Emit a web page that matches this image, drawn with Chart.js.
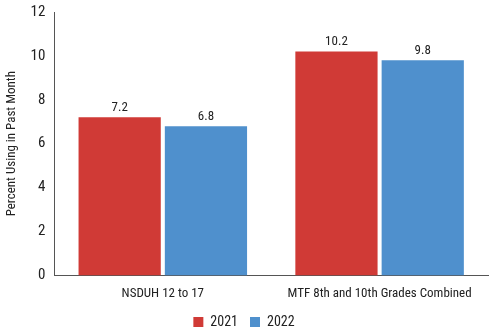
<!DOCTYPE html>
<html><head><meta charset="utf-8">
<script src="https://cdn.jsdelivr.net/npm/chart.js@4/dist/chart.umd.min.js"></script>
<style>html,body{margin:0;padding:0;background:#fff}#wrap{width:492px;height:333px}</style>
</head><body><div id="wrap"><canvas id="c" width="492" height="333"></canvas></div>
<script>
const categories = ["NSDUH 12 to 17", "MTF 8th and 10th Grades Combined"];
const seriesNames = ["2021", "2022"];
const values2021 = [7.2, 10.2];
const values2022 = [6.8, 9.8];
const yTicks = [0, 2, 4, 6, 8, 10, 12];

const FONT = '"Liberation Sans Narrow", "Roboto Condensed", "Arial Narrow", Roboto, sans-serif';
Chart.defaults.font.family = FONT;
Chart.defaults.color = '#222';

const labelPlugin = {
  id: 'vals',
  afterDatasetsDraw(chart) {
    const ctx = chart.ctx;
    ctx.save();
    ctx.font = '13px ' + FONT;
    ctx.fillStyle = '#222';
    ctx.textAlign = 'center';
    ctx.textBaseline = 'bottom';
    chart.data.datasets.forEach((ds, i) => {
      chart.getDatasetMeta(i).data.forEach((bar, j) => {
        ctx.fillText(ds.data[j].toFixed(1), bar.x, bar.y - 3);
      });
    });
    ctx.restore();
  }
};

new Chart(document.getElementById('c'), {
  type: 'bar',
  data: {
    labels: categories,
    datasets: [
      {label: seriesNames[0], data: values2021, backgroundColor: '#d03a36', categoryPercentage: 0.796, barPercentage: 0.953},
      {label: seriesNames[1], data: values2022, backgroundColor: '#4f90cd', categoryPercentage: 0.796, barPercentage: 0.953}
    ]
  },
  options: {
    responsive: false,
    animation: false,
    layout: {padding: {top: 0, right: 4, left: 0, bottom: -6}},
    plugins: {
      legend: {
        position: 'bottom',
        labels: {boxWidth: 10, boxHeight: 10, font: {size: 14}, color: '#222', padding: 12}
      },
      tooltip: {enabled: false}
    },
    scales: {
      x: {
        afterFit(axis) { axis.height = axis.height - 10; },
        grid: {display: false, drawTicks: false},
        border: {display: true, color: '#555', width: 1},
        ticks: {font: {size: 13}, color: '#222', padding: 11}
      },
      y: {
        min: 0, max: 12,
        afterBuildTicks(axis) { axis.ticks = yTicks.map(v => ({value: v})); },
        afterFit(axis) { axis.paddingTop = 12; },
        grid: {display: false, drawTicks: false},
        border: {display: true, color: '#555', width: 1},
        ticks: {font: {size: 15}, color: '#222', padding: 9},
        title: {display: true, text: 'Percent Using in Past Month', font: {size: 13}, color: '#222', padding: {top: 4, bottom: 2}}
      }
    }
  },
  plugins: [labelPlugin]
});
</script></body></html>
